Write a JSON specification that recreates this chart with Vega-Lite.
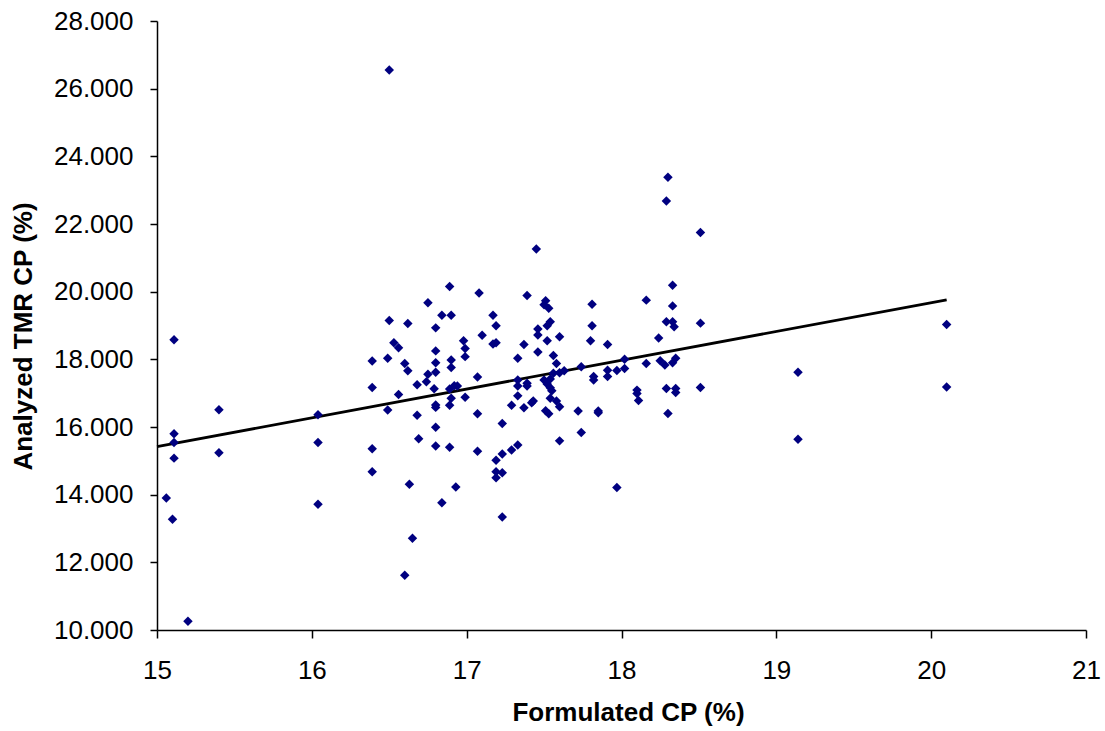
{
  "$schema": "https://vega.github.io/schema/vega-lite/v6.json",
  "width": 929,
  "height": 609,
  "autosize": {"type": "none"},
  "padding": {"left": 157, "top": 21, "right": 19, "bottom": 101},
  "background": "white",
  "config": {
    "view": {"stroke": null},
    "font": "Liberation Sans",
    "axis": {
      "grid": false,
      "domainColor": "#000000",
      "domainWidth": 1.5,
      "tickColor": "#000000",
      "tickWidth": 1.5,
      "labelColor": "#000000",
      "titleColor": "#000000",
      "labelFont": "Liberation Sans",
      "titleFont": "Liberation Sans",
      "labelFontSize": 26,
      "titleFontSize": 26,
      "titleFontWeight": "bold",
      "labelFlush": false
    }
  },
  "datasets": {
    "points": [
      {"formulated": 15.06, "analyzed": 13.90},
      {"formulated": 15.10, "analyzed": 13.27},
      {"formulated": 15.11, "analyzed": 18.58},
      {"formulated": 15.11, "analyzed": 15.80},
      {"formulated": 15.11, "analyzed": 15.54},
      {"formulated": 15.11, "analyzed": 15.08},
      {"formulated": 15.20, "analyzed": 10.26},
      {"formulated": 15.40, "analyzed": 16.51},
      {"formulated": 15.40, "analyzed": 15.24},
      {"formulated": 16.04, "analyzed": 16.36},
      {"formulated": 16.04, "analyzed": 15.54},
      {"formulated": 16.04, "analyzed": 13.72},
      {"formulated": 16.39, "analyzed": 17.95},
      {"formulated": 16.39, "analyzed": 17.17},
      {"formulated": 16.39, "analyzed": 15.36},
      {"formulated": 16.39, "analyzed": 14.68},
      {"formulated": 16.49, "analyzed": 18.03},
      {"formulated": 16.49, "analyzed": 16.50},
      {"formulated": 16.50, "analyzed": 19.15},
      {"formulated": 16.50, "analyzed": 26.55},
      {"formulated": 16.53, "analyzed": 18.49},
      {"formulated": 16.56, "analyzed": 18.34},
      {"formulated": 16.56, "analyzed": 16.96},
      {"formulated": 16.60, "analyzed": 17.88},
      {"formulated": 16.62, "analyzed": 17.66},
      {"formulated": 16.62, "analyzed": 19.06},
      {"formulated": 16.60, "analyzed": 11.62},
      {"formulated": 16.63, "analyzed": 14.31},
      {"formulated": 16.65, "analyzed": 12.71},
      {"formulated": 16.68, "analyzed": 17.25},
      {"formulated": 16.68, "analyzed": 16.35},
      {"formulated": 16.69, "analyzed": 15.65},
      {"formulated": 16.74, "analyzed": 17.34},
      {"formulated": 16.75, "analyzed": 17.56},
      {"formulated": 16.75, "analyzed": 19.67},
      {"formulated": 16.80, "analyzed": 18.93},
      {"formulated": 16.80, "analyzed": 18.25},
      {"formulated": 16.80, "analyzed": 17.90},
      {"formulated": 16.80, "analyzed": 17.62},
      {"formulated": 16.79, "analyzed": 17.13},
      {"formulated": 16.80, "analyzed": 16.65},
      {"formulated": 16.80, "analyzed": 16.58},
      {"formulated": 16.80, "analyzed": 15.99},
      {"formulated": 16.80, "analyzed": 15.44},
      {"formulated": 16.84, "analyzed": 19.30},
      {"formulated": 16.84, "analyzed": 13.76},
      {"formulated": 16.89, "analyzed": 20.15},
      {"formulated": 16.90, "analyzed": 19.30},
      {"formulated": 16.90, "analyzed": 17.98},
      {"formulated": 16.90, "analyzed": 17.76},
      {"formulated": 16.89, "analyzed": 17.12},
      {"formulated": 16.92, "analyzed": 17.22},
      {"formulated": 16.94, "analyzed": 17.21},
      {"formulated": 16.90, "analyzed": 16.85},
      {"formulated": 16.89, "analyzed": 16.64},
      {"formulated": 16.89, "analyzed": 15.40},
      {"formulated": 16.93, "analyzed": 14.23},
      {"formulated": 16.98, "analyzed": 18.55},
      {"formulated": 16.99, "analyzed": 18.32},
      {"formulated": 16.99, "analyzed": 18.08},
      {"formulated": 16.99, "analyzed": 16.88},
      {"formulated": 17.08, "analyzed": 19.96},
      {"formulated": 17.10, "analyzed": 18.71},
      {"formulated": 17.07, "analyzed": 17.48},
      {"formulated": 17.07, "analyzed": 16.39},
      {"formulated": 17.07, "analyzed": 15.28},
      {"formulated": 17.17, "analyzed": 19.30},
      {"formulated": 17.19, "analyzed": 18.99},
      {"formulated": 17.17, "analyzed": 18.45},
      {"formulated": 17.19, "analyzed": 18.49},
      {"formulated": 17.19, "analyzed": 15.02},
      {"formulated": 17.23, "analyzed": 15.20},
      {"formulated": 17.19, "analyzed": 14.68},
      {"formulated": 17.23, "analyzed": 14.65},
      {"formulated": 17.19, "analyzed": 14.50},
      {"formulated": 17.23, "analyzed": 16.10},
      {"formulated": 17.23, "analyzed": 13.34},
      {"formulated": 17.29, "analyzed": 16.64},
      {"formulated": 17.29, "analyzed": 15.32},
      {"formulated": 17.33, "analyzed": 18.03},
      {"formulated": 17.33, "analyzed": 17.39},
      {"formulated": 17.33, "analyzed": 17.21},
      {"formulated": 17.33, "analyzed": 16.92},
      {"formulated": 17.33, "analyzed": 15.47},
      {"formulated": 17.37, "analyzed": 18.44},
      {"formulated": 17.37, "analyzed": 16.57},
      {"formulated": 17.39, "analyzed": 19.89},
      {"formulated": 17.39, "analyzed": 17.29},
      {"formulated": 17.39, "analyzed": 17.21},
      {"formulated": 17.42, "analyzed": 16.72},
      {"formulated": 17.43, "analyzed": 16.77},
      {"formulated": 17.45, "analyzed": 21.26},
      {"formulated": 17.46, "analyzed": 18.90},
      {"formulated": 17.46, "analyzed": 18.72},
      {"formulated": 17.46, "analyzed": 18.22},
      {"formulated": 17.51, "analyzed": 19.73},
      {"formulated": 17.50, "analyzed": 19.61},
      {"formulated": 17.53, "analyzed": 19.51},
      {"formulated": 17.54, "analyzed": 19.11},
      {"formulated": 17.52, "analyzed": 18.99},
      {"formulated": 17.52, "analyzed": 18.55},
      {"formulated": 17.50, "analyzed": 17.39},
      {"formulated": 17.54, "analyzed": 17.42},
      {"formulated": 17.52, "analyzed": 17.27},
      {"formulated": 17.54, "analyzed": 17.16},
      {"formulated": 17.55, "analyzed": 17.07},
      {"formulated": 17.54, "analyzed": 16.85},
      {"formulated": 17.51, "analyzed": 16.48},
      {"formulated": 17.53, "analyzed": 16.39},
      {"formulated": 17.56, "analyzed": 18.11},
      {"formulated": 17.58, "analyzed": 17.88},
      {"formulated": 17.56, "analyzed": 17.59},
      {"formulated": 17.60, "analyzed": 17.60},
      {"formulated": 17.63, "analyzed": 17.66},
      {"formulated": 17.60, "analyzed": 18.67},
      {"formulated": 17.58, "analyzed": 16.77},
      {"formulated": 17.60, "analyzed": 16.60},
      {"formulated": 17.60, "analyzed": 15.59},
      {"formulated": 17.72, "analyzed": 16.47},
      {"formulated": 17.74, "analyzed": 15.84},
      {"formulated": 17.74, "analyzed": 17.78},
      {"formulated": 17.81, "analyzed": 19.63},
      {"formulated": 17.81, "analyzed": 18.99},
      {"formulated": 17.80, "analyzed": 18.55},
      {"formulated": 17.82, "analyzed": 17.49},
      {"formulated": 17.82, "analyzed": 17.39},
      {"formulated": 17.85, "analyzed": 16.47},
      {"formulated": 17.85, "analyzed": 16.42},
      {"formulated": 17.91, "analyzed": 18.44},
      {"formulated": 17.91, "analyzed": 17.68},
      {"formulated": 17.91, "analyzed": 17.49},
      {"formulated": 17.97, "analyzed": 17.67},
      {"formulated": 17.97, "analyzed": 14.21},
      {"formulated": 18.02, "analyzed": 18.00},
      {"formulated": 18.02, "analyzed": 17.73},
      {"formulated": 18.10, "analyzed": 17.09},
      {"formulated": 18.10, "analyzed": 16.99},
      {"formulated": 18.11, "analyzed": 16.78},
      {"formulated": 18.16, "analyzed": 19.75},
      {"formulated": 18.16, "analyzed": 17.88},
      {"formulated": 18.24, "analyzed": 18.63},
      {"formulated": 18.25, "analyzed": 17.96},
      {"formulated": 18.28, "analyzed": 17.83},
      {"formulated": 18.33, "analyzed": 17.90},
      {"formulated": 18.35, "analyzed": 18.03},
      {"formulated": 18.29, "analyzed": 19.11},
      {"formulated": 18.33, "analyzed": 19.11},
      {"formulated": 18.34, "analyzed": 18.96},
      {"formulated": 18.33, "analyzed": 20.19},
      {"formulated": 18.33, "analyzed": 19.58},
      {"formulated": 18.29, "analyzed": 17.14},
      {"formulated": 18.35, "analyzed": 17.14},
      {"formulated": 18.35, "analyzed": 17.02},
      {"formulated": 18.30, "analyzed": 16.40},
      {"formulated": 18.30, "analyzed": 23.38},
      {"formulated": 18.29, "analyzed": 22.68},
      {"formulated": 18.51, "analyzed": 21.75},
      {"formulated": 18.51, "analyzed": 19.07},
      {"formulated": 18.51, "analyzed": 17.17},
      {"formulated": 19.14, "analyzed": 17.62},
      {"formulated": 19.14, "analyzed": 15.64},
      {"formulated": 20.10, "analyzed": 19.03},
      {"formulated": 20.10, "analyzed": 17.18}
    ],
    "trend": [
      {"formulated": 15.0, "analyzed": 15.42},
      {"formulated": 20.1, "analyzed": 19.76}
    ]
  },
  "layer": [
    {
      "data": {"name": "trend"},
      "mark": {"type": "line", "color": "#000000", "strokeWidth": 2.8},
      "encoding": {
        "x": {"field": "formulated", "type": "quantitative"},
        "y": {"field": "analyzed", "type": "quantitative"}
      }
    },
    {
      "data": {"name": "points"},
      "mark": {"type": "point", "shape": "diamond", "filled": true, "color": "#000080", "opacity": 1, "size": 90},
      "encoding": {
        "x": {
          "field": "formulated",
          "type": "quantitative",
          "scale": {"domain": [15, 21], "nice": false, "zero": false},
          "axis": {
            "title": "Formulated CP (%)",
            "values": [15, 16, 17, 18, 19, 20, 21],
            "format": "d",
            "tickSize": 8,
            "labelPadding": 19,
            "titlePadding": 16,
            "titleX": 471
          }
        },
        "y": {
          "field": "analyzed",
          "type": "quantitative",
          "scale": {"domain": [10, 28], "nice": false, "zero": false},
          "axis": {
            "title": "Analyzed TMR CP (%)",
            "values": [10, 12, 14, 16, 18, 20, 22, 24, 26, 28],
            "format": ".3f",
            "tickSize": 7,
            "labelPadding": 17,
            "titleAngle": 270,
            "titleBaseline": "middle",
            "titleX": -134,
            "titleY": 315
          }
        }
      }
    }
  ]
}
